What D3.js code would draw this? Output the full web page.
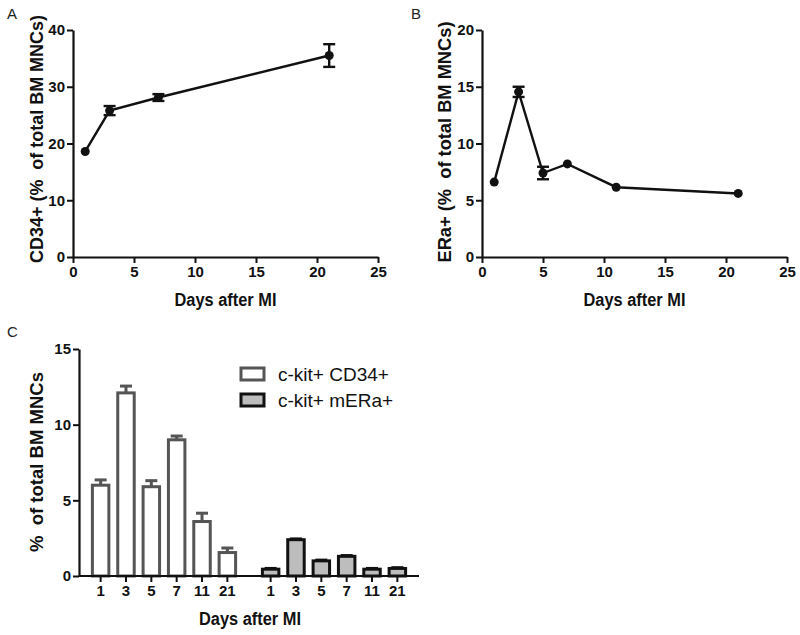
<!DOCTYPE html>
<html><head><meta charset="utf-8">
<script src="https://cdn.jsdelivr.net/npm/d3@7"></script>
<style>
body{margin:0;background:#fff;}
svg{display:block;font-family:Arial,"Liberation Sans",sans-serif;}
</style></head>
<body><svg id="c" width="800" height="635"></svg>
<script>
// Panel A: CD34+
const daysA = [1, 3, 7, 21];
const cd34 = [18.6, 25.8, 28.1, 35.5];
const cd34Err = [0, 0.8, 0.6, 2.0];
// Panel B: ERa+
const daysB = [1, 3, 5, 7, 11, 21];
const era = [6.6, 14.55, 7.4, 8.2, 6.15, 5.6];
const eraErr = [0, 0.45, 0.55, 0, 0, 0];
// Panel C: bars
const dayCats = ["1", "3", "5", "7", "11", "21"];
const seriesNames = ["c-kit+ CD34+", "c-kit+ mERa+"];
const kitCd34 = [6.0, 12.1, 5.9, 9.0, 3.6, 1.55];
const kitCd34Err = [0.35, 0.45, 0.4, 0.25, 0.55, 0.3];
const kitEra = [0.45, 2.4, 1.0, 1.3, 0.45, 0.5];
const kitEraErr = [0.05, 0.05, 0.05, 0.05, 0.05, 0.05];
const xTicks = [0, 5, 10, 15, 20, 25];

const svg = d3.select("#c");
const FONT = 'Arial,"Liberation Sans",sans-serif';

function styleAxis(g, fs) {
  g.selectAll("path.domain").attr("stroke", "#111").attr("stroke-width", 2.2);
  g.selectAll(".tick line").attr("stroke", "#111").attr("stroke-width", 2);
  g.selectAll(".tick text").attr("fill", "#111").attr("font-size", fs).attr("font-weight", "bold").attr("font-family", FONT);
}

function linePanel(opt) {
  const x = d3.scaleLinear().domain([0, 25]).range(opt.xr);
  const y = d3.scaleLinear().domain([0, opt.ymax]).range([257, 30]);
  const g = svg.append("g");
  const xa = g.append("g").attr("transform", `translate(0,${y(0)})`)
    .call(d3.axisBottom(x).tickValues(xTicks).tickSize(6).tickPadding(3).tickSizeOuter(0));
  styleAxis(xa, 15);
  const ya = g.append("g").attr("transform", `translate(${x(0)},0)`)
    .call(d3.axisLeft(y).ticks(4).tickSize(6).tickPadding(2).tickSizeOuter(0));
  styleAxis(ya, 15);
  const data = opt.days.map((d, i) => ({d, v: opt.vals[i], e: opt.errs[i]}));
  g.append("path").datum(data)
    .attr("fill", "none").attr("stroke", "#111").attr("stroke-width", 2.4)
    .attr("d", d3.line().x(p => x(p.d)).y(p => y(p.v)));
  const eb = g.append("g").selectAll("g").data(data.filter(p => p.e > 0)).join("g").attr("stroke", "#111").attr("stroke-width", 2.4);
  eb.append("line").attr("x1", p => x(p.d)).attr("x2", p => x(p.d)).attr("y1", p => y(p.v + p.e)).attr("y2", p => y(p.v - p.e));
  eb.append("line").attr("x1", p => x(p.d) - 6).attr("x2", p => x(p.d) + 6).attr("y1", p => y(p.v + p.e)).attr("y2", p => y(p.v + p.e));
  eb.append("line").attr("x1", p => x(p.d) - 6).attr("x2", p => x(p.d) + 6).attr("y1", p => y(p.v - p.e)).attr("y2", p => y(p.v - p.e));
  g.append("g").selectAll("circle").data(data).join("circle")
    .attr("cx", p => x(p.d)).attr("cy", p => y(p.v)).attr("r", 4.5).attr("fill", "#111");
  g.append("text").attr("x", (x(0) + x(25)) / 2).attr("y", 306).attr("text-anchor", "middle")
    .attr("font-size", 18).attr("font-weight", "bold").attr("fill", "#111")
    .attr("textLength", 102).attr("lengthAdjust", "spacingAndGlyphs").text("Days after MI");
  g.append("text").attr("transform", `translate(${opt.ytx},${opt.yty}) rotate(-90)`)
    .attr("text-anchor", "middle").attr("dy", "0.35em")
    .attr("font-size", 18).attr("font-weight", "bold").attr("fill", "#111")
    .attr("textLength", opt.ylen).attr("lengthAdjust", "spacingAndGlyphs").text(opt.ytitle);
  g.append("text").attr("x", opt.lx).attr("y", 19).attr("font-size", 15).attr("fill", "#222").text(opt.label);
}

linePanel({xr: [73, 378], ymax: 40, days: daysA, vals: cd34, errs: cd34Err, ytx: 37, yty: 139, ylen: 248, ytitle: "CD34+ (%\u00a0 of total BM MNCs)", lx: 7, label: "A"});
linePanel({xr: [482, 787], ymax: 20, days: daysB, vals: era, errs: eraErr, ytx: 445, yty: 142, ylen: 241, ytitle: "ERa+ (%\u00a0 of total BM MNCs)", lx: 411, label: "B"});

// Panel C
const yC = d3.scaleLinear().domain([0, 15]).range([576, 349]);
const outer = d3.scaleBand().domain(seriesNames).range([79, 419]).paddingInner(0.104).paddingOuter(0.052);
const inner = d3.scaleBand().domain(dayCats).range([0, outer.bandwidth()]).paddingInner(0.35).paddingOuter(0.18);
const gC = svg.append("g");
const groups = [
  {name: seriesNames[0], vals: kitCd34, errs: kitCd34Err, fill: "#fff", stroke: "#555"},
  {name: seriesNames[1], vals: kitEra, errs: kitEraErr, fill: "#bdbdbd", stroke: "#111"}
];
groups.forEach(gr => {
  const gg = gC.append("g").attr("transform", `translate(${outer(gr.name)},0)`);
  const data = dayCats.map((c, i) => ({c, v: gr.vals[i], e: gr.errs[i]}));
  const eb = gg.append("g").attr("stroke", gr.stroke).attr("stroke-width", 3);
  eb.selectAll("line.v").data(data).join("line").attr("class", "v")
    .attr("x1", d => inner(d.c) + inner.bandwidth() / 2).attr("x2", d => inner(d.c) + inner.bandwidth() / 2)
    .attr("y1", d => yC(d.v)).attr("y2", d => yC(d.v + d.e));
  eb.selectAll("line.c").data(data).join("line").attr("class", "c")
    .attr("x1", d => inner(d.c) + inner.bandwidth() / 2 - 6).attr("x2", d => inner(d.c) + inner.bandwidth() / 2 + 6)
    .attr("y1", d => yC(d.v + d.e)).attr("y2", d => yC(d.v + d.e));
  gg.selectAll("rect").data(data).join("rect")
    .attr("x", d => inner(d.c)).attr("width", inner.bandwidth())
    .attr("y", d => yC(d.v)).attr("height", d => yC(0) - yC(d.v))
    .attr("fill", gr.fill).attr("stroke", gr.stroke).attr("stroke-width", 3);
  const ax = gg.append("g").attr("transform", `translate(0,${yC(0)})`)
    .call(d3.axisBottom(inner).tickSize(6).tickPadding(3).tickSizeOuter(0));
  ax.select("path.domain").remove();
  styleAxis(ax, 15);
});
gC.append("line").attr("x1", 79).attr("x2", 419).attr("y1", yC(0)).attr("y2", yC(0))
  .attr("stroke", "#111").attr("stroke-width", 2.2);
const yaC = gC.append("g").attr("transform", "translate(79,0)")
  .call(d3.axisLeft(yC).tickValues([0, 5, 10, 15]).tickSize(6).tickPadding(2).tickSizeOuter(0));
styleAxis(yaC, 15);
gC.append("text").attr("x", 250).attr("y", 625).attr("text-anchor", "middle")
  .attr("font-size", 18).attr("font-weight", "bold").attr("fill", "#111")
  .attr("textLength", 102).attr("lengthAdjust", "spacingAndGlyphs").text("Days after MI");
gC.append("text").attr("transform", `translate(37,462) rotate(-90)`)
  .attr("text-anchor", "middle").attr("dy", "0.35em")
  .attr("font-size", 18).attr("font-weight", "bold").attr("fill", "#111")
  .attr("textLength", 180).attr("lengthAdjust", "spacingAndGlyphs").text("%\u00a0 of total BM MNCs");
gC.append("text").attr("x", 7).attr("y", 337).attr("font-size", 15).attr("fill", "#222").text("C");
// legend
const lg = gC.append("g").selectAll("g").data(groups).join("g")
  .attr("transform", (d, i) => `translate(241,${368 + i * 26})`);
lg.append("rect").attr("width", 23).attr("height", 12).attr("fill", d => d.fill).attr("stroke", d => d.stroke).attr("stroke-width", 3);
lg.append("text").attr("x", 37).attr("y", 6).attr("dy", "0.35em").attr("font-size", 19).attr("fill", "#111").text(d => d.name);
</script></body></html>
